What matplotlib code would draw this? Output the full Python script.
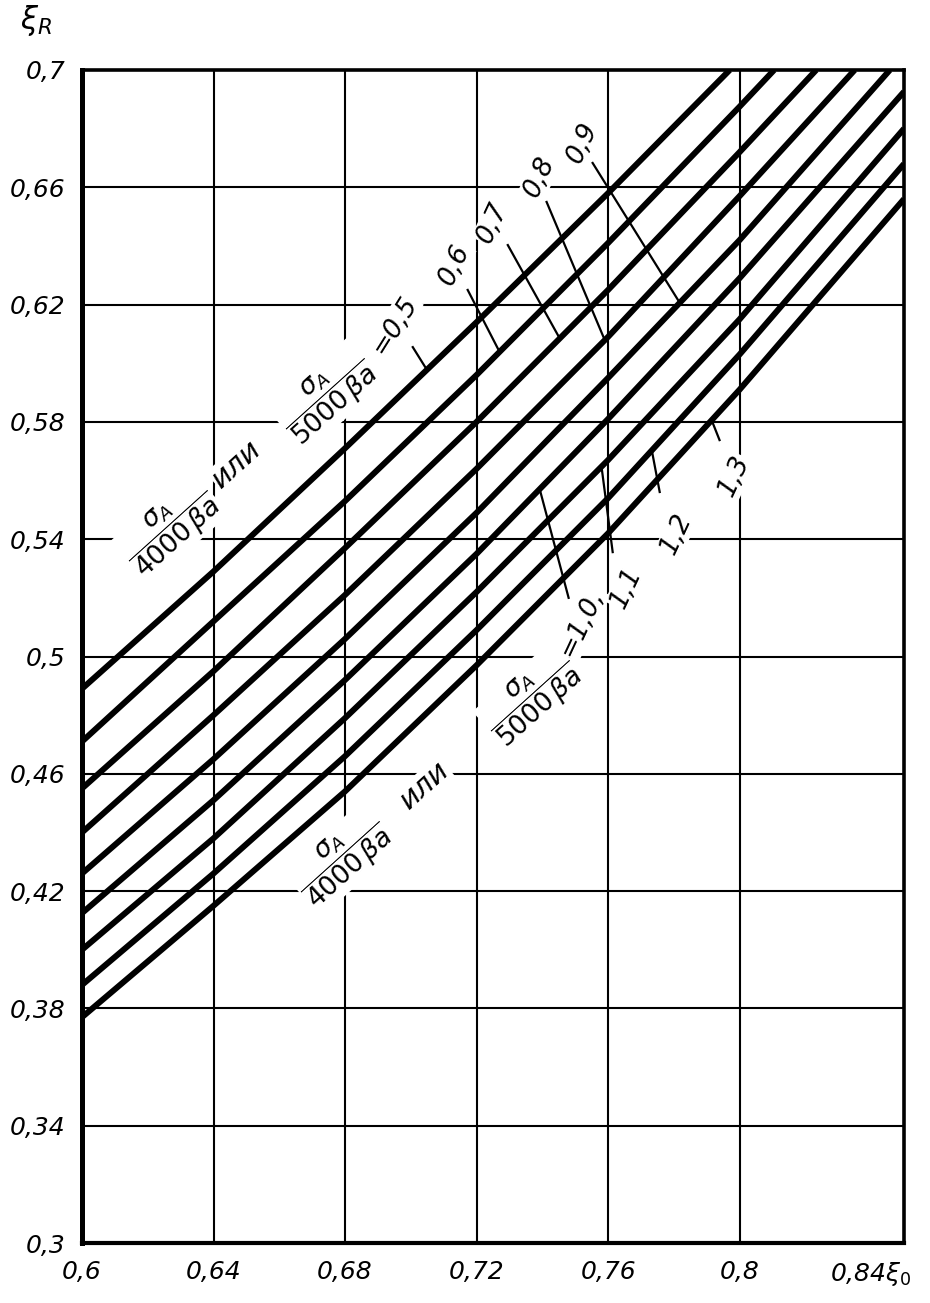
import matplotlib
matplotlib.use("Agg")
import matplotlib.pyplot as plt
import numpy as np

plt.rcParams['font.family'] = ['DejaVu Sans']
plt.rcParams['mathtext.fontset'] = 'dejavusans'
plt.rcParams['mathtext.default'] = 'it'

# ---- data (one value per curve, top curve first) ----
ratio_labels = ["0,5", "0,6", "0,7", "0,8", "0,9", "1,0", "1,1", "1,2", "1,3"]
x_grid = [0.60, 0.64, 0.68, 0.72, 0.76, 0.80]
y_at_060 = [0.489, 0.471, 0.455, 0.440, 0.426, 0.4125, 0.400, 0.388, 0.377]
y_at_064 = [0.529, 0.512, 0.495, 0.480, 0.465, 0.451, 0.438, 0.426, 0.415]
y_at_068 = [0.571, 0.553, 0.537, 0.521, 0.506, 0.492, 0.479, 0.466, 0.454]
y_at_072 = [0.614, 0.596, 0.580, 0.564, 0.549, 0.535, 0.522, 0.509, 0.497]
y_at_076 = [0.658, 0.641, 0.625, 0.609, 0.595, 0.581, 0.567, 0.554, 0.542]
y_at_080 = [np.nan, 0.6875, 0.672, 0.657, 0.642, 0.629, 0.615, 0.603, 0.591]
# where each curve leaves the chart (top edge or right edge)
x_end = [0.797, 0.8105, 0.8233, 0.835, 0.8457, 0.85, 0.85, 0.85, 0.85]
y_end = [0.700, 0.700, 0.700, 0.700, 0.700, 0.6926, 0.680, 0.668, 0.656]

x_ticks = [0.60, 0.64, 0.68, 0.72, 0.76, 0.80, 0.84]
x_tick_labels = ["0,6", "0,64", "0,68", "0,72", "0,76", "0,8", r"0,84$\xi_0$"]
y_ticks = [0.30, 0.34, 0.38, 0.42, 0.46, 0.50, 0.54, 0.58, 0.62, 0.66, 0.70]
y_tick_labels = ["0,3", "0,34", "0,38", "0,42", "0,46", "0,5", "0,54", "0,58", "0,62", "0,66", "0,7"]
grid_x = [0.64, 0.68, 0.72, 0.76, 0.80]
grid_y = [0.34, 0.38, 0.42, 0.46, 0.50, 0.54, 0.58, 0.62, 0.66]

W, H = 930, 1303
fig = plt.figure(figsize=(W / 100, H / 100), dpi=100)
ax = fig.add_axes([82 / W, 60 / H, 822 / W, 1173 / H])
ax.set_xlim(0.6, 0.85)
ax.set_ylim(0.3, 0.7)

for gx in grid_x:
    ax.axvline(gx, color='black', lw=1.5, zorder=1)
for gy in grid_y:
    ax.axhline(gy, color='black', lw=1.5, zorder=1)

columns = [y_at_060, y_at_064, y_at_068, y_at_072, y_at_076, y_at_080]
curves = []
for i in range(len(ratio_labels)):
    xs, ys = [], []
    for gx, col in zip(x_grid, columns):
        if not np.isnan(col[i]) and gx < x_end[i]:
            xs.append(gx)
            ys.append(col[i])
    xs.append(x_end[i])
    ys.append(y_end[i])
    curves.append((xs, ys))
    ax.plot(xs, ys, color='black', lw=4.3, solid_capstyle='butt',
            solid_joinstyle='round', zorder=3)

for side, lw in [('left', 3.6), ('bottom', 3.0), ('top', 2.6), ('right', 2.6)]:
    ax.spines[side].set_linewidth(lw)
    ax.spines[side].set_color('black')
    ax.spines[side].set_zorder(5)

ax.set_xticks(x_ticks)
ax.set_xticklabels(x_tick_labels)
ax.set_yticks(y_ticks)
ax.set_yticklabels(y_tick_labels)
ax.tick_params(length=0, labelsize=18)
ax.tick_params(axis='x', pad=12)
ax.tick_params(axis='y', pad=12)
for lab in ax.get_xticklabels() + ax.get_yticklabels():
    lab.set_fontstyle('italic')

fig.text(36 / W, 1 - 20 / H, r"$\xi_R$", fontsize=22, ha='center', va='center')

txt_kw = dict(color='black', ha='center', va='center', rotation_mode='anchor',
              fontstyle='italic', zorder=2.5)
bb = dict(facecolor='white', edgecolor='none', pad=0.5)

# upper annotation
ax.text(0.6267, 0.5440, r"$\dfrac{\sigma_A}{4000\,\beta a}$", fontsize=19, rotation=42, bbox=bb, **txt_kw)
ax.text(0.6470, 0.5655, "или", fontsize=21, rotation=42, bbox=bb, **txt_kw)
ax.text(0.6745, 0.5890, r"$\dfrac{\sigma_A}{5000\,\beta a}$", fontsize=19, rotation=42, bbox=bb, **txt_kw)
ax.text(0.6951, 0.6130, "=0,5", fontsize=19, rotation=58, bbox=bb, **txt_kw)

# lower annotation
ax.text(0.6790, 0.4310, r"$\dfrac{\sigma_A}{4000\,\beta a}$", fontsize=19, rotation=42, bbox=bb, **txt_kw)
ax.text(0.7043, 0.4560, "или", fontsize=21, rotation=42, bbox=bb, **txt_kw)
ax.text(0.7370, 0.4860, r"$\dfrac{\sigma_A}{5000\,\beta a}$", fontsize=19, rotation=42, bbox=bb, **txt_kw)

# ratio labels with leaders: (curve index, label x, label y, rotation, leader start x, y, leader end x)
label_layout = [
    (0, None, None, None, 0.7006, 0.6055, 0.7049),
    (1, 0.7134, 0.6335, 65, 0.7173, 0.6250, 0.7270),
    (2, 0.7249, 0.6478, 65, 0.7295, 0.6403, 0.7453),
    (3, 0.7392, 0.6635, 65, 0.7413, 0.6550, 0.7590),
    (4, 0.7523, 0.6751, 65, 0.7553, 0.6683, 0.7818),
    (5, 0.7520, 0.5115, 65, 0.7480, 0.5200, 0.7392),
    (6, 0.7655, 0.5235, 65, 0.7614, 0.5356, 0.7580),
    (7, 0.7809, 0.5420, 65, 0.7757, 0.5561, 0.7733),
    (8, 0.7985, 0.5615, 65, 0.7939, 0.5738, 0.7915),
]
for idx, lx, ly, rot, sx, sy, ex in label_layout:
    xs, ys = curves[idx]
    ey = np.interp(ex, xs, ys)
    ax.plot([sx, ex], [sy, ey], color='black', lw=1.6, zorder=2.8)
    if lx is not None:
        text = ratio_labels[idx]
        if idx == 5:
            text = "=" + text + ","
        ax.text(lx, ly, text, fontsize=19, rotation=rot, bbox=bb, **txt_kw)

fig.savefig("out.png", dpi=100, facecolor='white')
